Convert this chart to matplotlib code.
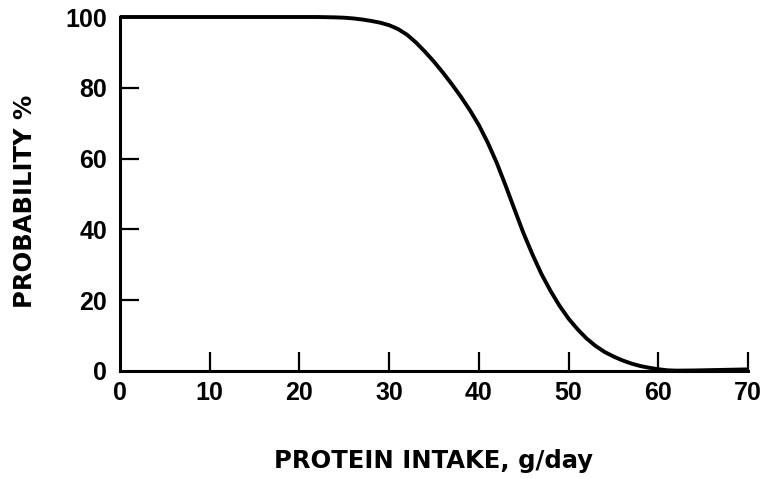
import matplotlib.pyplot as plt

# Curve
intake = [0, 20, 22, 24, 25, 26, 27, 28, 29, 30, 31, 32, 33, 34, 35, 36, 37,
          38, 39, 40, 41, 42, 43, 44, 45, 46, 47, 48, 49, 50, 51, 52, 53, 54,
          55, 56, 57, 58, 59, 60, 61, 62, 64, 66, 68, 70]
probability = [100, 100, 100, 99.9, 99.8, 99.6, 99.3, 98.9, 98.4, 97.7, 96.6,
               95.0, 92.8, 90.2, 87.4, 84.3, 81, 77.5, 73.7, 69.5, 64.5, 58.8,
               52.3, 45.5, 38.8, 32.8, 27.3, 22.6, 18.4, 14.8, 11.8, 9.2, 7.1,
               5.4, 4.1, 3, 2.1, 1.4, 0.9, 0.5, 0.2, 0.1, 0.15, 0.25, 0.35,
               0.45]

x_ticks = [0, 10, 20, 30, 40, 50, 60, 70]
y_ticks = [0, 20, 40, 60, 80, 100]

plt.rcParams['font.family'] = ['Liberation Sans', 'DejaVu Sans']

fig = plt.figure(figsize=(7.68, 4.79), dpi=100)
ax = fig.add_axes([0.156, 0.2255, 0.818, 0.739])

ax.plot(intake, probability, color='black', linewidth=2.8, clip_on=False,
        solid_capstyle='butt', solid_joinstyle='round')

ax.set_xlim(0, 70)
ax.set_ylim(0, 100)
ax.set_xticks(x_ticks)
ax.set_yticks(y_ticks)

for side in ['top', 'right']:
    ax.spines[side].set_visible(False)
for side in ['left', 'bottom']:
    ax.spines[side].set_linewidth(2.2)

ax.tick_params(axis='both', direction='in', length=14, width=1.6,
               labelsize=18, colors='black')
ax.tick_params(axis='x', pad=7)
ax.tick_params(axis='y', pad=9)
for lbl in ax.get_xticklabels() + ax.get_yticklabels():
    lbl.set_fontweight('bold')

# no tick marks at the corner or at 100
ax.xaxis.get_major_ticks()[0].tick1line.set_visible(False)
ax.yaxis.get_major_ticks()[0].tick1line.set_visible(False)
ax.yaxis.get_major_ticks()[-1].tick1line.set_visible(False)

ax.set_xlabel("PROTEIN INTAKE, g/day", fontsize=17.5, fontweight='bold',
              family='DejaVu Sans', labelpad=32)
ax.set_ylabel("PROBABILITY %", fontsize=17.5, fontweight='bold',
              family='DejaVu Sans')
ax.yaxis.set_label_coords(-0.132, 0.48)

fig.savefig("out.png", dpi=100)
